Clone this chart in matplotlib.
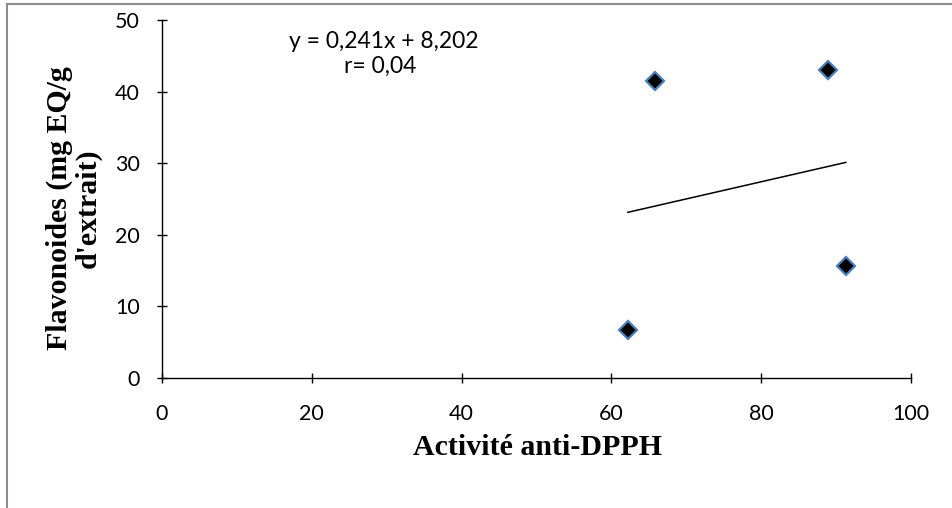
import numpy as np
import matplotlib.pyplot as plt
from matplotlib.lines import Line2D

# -----------------------------
# Daten
# -----------------------------
dpph = [62.2, 65.8, 88.9, 91.3]
flavonoides = [6.7, 41.5, 43.0, 15.6]

xticks = [0, 20, 40, 60, 80, 100]
yticks = [0, 10, 20, 30, 40, 50]

equation = "y = 0,241x + 8,202"
r_text = "r= 0,04"

# -----------------------------
# Lineare Regression (Trendlinie)
# -----------------------------
slope, intercept = np.polyfit(dpph, flavonoides, 1)
x_fit = np.array([min(dpph), max(dpph)])
y_fit = slope * x_fit + intercept

# -----------------------------
# Plot
# -----------------------------
fig = plt.figure(figsize=(9.53, 5.08), dpi=100)
ax = fig.add_axes([162 / 953, 1 - 378 / 508, 749 / 953, 358 / 508])

ax.plot(x_fit, y_fit, color="black", lw=1.1)
ax.plot(dpph, flavonoides, linestyle="none", marker="D", markersize=9,
        markerfacecolor="black", markeredgecolor="#4a7ebb", markeredgewidth=1.6)

ax.set_xlim(0, 100)
ax.set_ylim(0, 50)
ax.set_xticks(xticks)
ax.set_yticks(yticks)

for side in ["top", "right"]:
    ax.spines[side].set_visible(False)
for side in ["left", "bottom"]:
    ax.spines[side].set_linewidth(1.0)

ax.tick_params(direction="inout", length=7, width=1.0, labelsize=15.5)
ax.tick_params(axis="x", pad=15)
ax.tick_params(axis="y", pad=12.5)
for lab in ax.get_xticklabels() + ax.get_yticklabels():
    lab.set_fontfamily("Lato")

ax.set_xlabel("Activité anti-DPPH", fontfamily="Liberation Serif",
              fontweight="bold", fontsize=21.5, va="baseline")
ax.xaxis.set_label_coords(0.502, -0.215)
ax.set_ylabel("Flavonoides (mg EQ/g\nd'extrait)", fontfamily="Liberation Serif",
              fontweight="bold", fontsize=21.5, va="center", linespacing=1.1)
ax.yaxis.set_label_coords(-0.118, 0.475)

ax.text(0.296, 0.922, equation, transform=ax.transAxes, ha="center", va="baseline",
        fontfamily="Lato", fontsize=16.5)
ax.text(0.291, 0.853, r_text, transform=ax.transAxes, ha="center", va="baseline",
        fontfamily="Lato", fontsize=16.5)

# grauer Rahmen (nur oben und links sichtbar)
fig.add_artist(Line2D([6.5 / 953, 6.5 / 953], [0, 1 - 4 / 508], color="#8c8c8c",
                      lw=1.5, transform=fig.transFigure))
fig.add_artist(Line2D([6.5 / 953, 1], [1 - 4 / 508, 1 - 4 / 508], color="#8c8c8c",
                      lw=1.5, transform=fig.transFigure))

fig.savefig("out.png", dpi=100)
